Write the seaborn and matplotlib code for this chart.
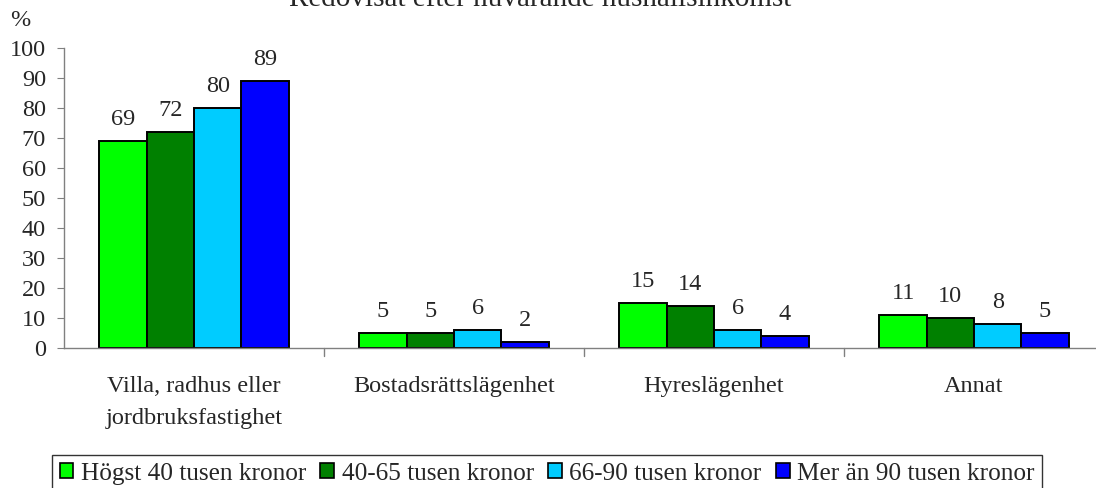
import matplotlib.pyplot as plt
import seaborn as sns
import pandas as pd
from matplotlib.patches import Patch

# Data
categories = ["Villa, radhus eller\njordbruksfastighet", "Bostadsrättslägenhet", "Hyreslägenhet", "Annat"]
groups = ["Högst 40 tusen kronor", "40-65 tusen kronor", "66-90 tusen kronor", "Mer än 90 tusen kronor"]
values = [
    [69, 5, 15, 11],
    [72, 5, 14, 10],
    [80, 6, 6, 8],
    [89, 2, 4, 5],
]
colors = ["#00FF00", "#008000", "#00CCFF", "#0000FF"]
title = "Redovisat efter nuvarande hushållsinkomst"

rows = []
for g, vals in zip(groups, values):
    for c, v in zip(categories, vals):
        rows.append({"kategori": c, "grupp": g, "varde": v})
df = pd.DataFrame(rows)

sns.set_style("white")
plt.rcParams["font.family"] = ["Liberation Serif", "DejaVu Serif"]
fs = 17.5

fig = plt.figure(figsize=(10.96, 4.88), dpi=100)
ax = fig.add_axes([64 / 1096, 140 / 488, 1040 / 1096, 300 / 488])

sns.barplot(data=df, x="kategori", y="varde", hue="grupp", order=categories,
            hue_order=groups, palette=colors, saturation=1, width=0.727, gap=0,
            edgecolor="black", linewidth=1.4, legend=False, ax=ax)

# value labels
for cont in ax.containers:
    ax.bar_label(cont, padding=8, fontsize=fs)

ax.set_xlim(-0.5, 3.5)
ax.set_ylim(0, 100)
ax.set_yticks(range(0, 101, 10))
ax.set_xlabel("")
ax.set_ylabel("")
ax.tick_params(axis="y", labelsize=fs, length=5, color="#808080", direction="out", left=True, pad=8)
ax.tick_params(axis="x", labelsize=fs, length=0, pad=20)
for lbl in ax.get_xticklabels():
    lbl.set_linespacing(1.7)
for s in ["top", "right"]:
    ax.spines[s].set_visible(False)
for s in ["left", "bottom"]:
    ax.spines[s].set_color("#808080")
    ax.spines[s].set_linewidth(1)

# boundary ticks between categories
for xb in [0.5, 1.5, 2.5]:
    ax.plot([xb, xb], [0, -2.7], color="#808080", lw=1, clip_on=False)

fig.text(10 / 1096, 1 - 20 / 488, "%", fontsize=fs, ha="left", va="center")
fig.text(540 / 1096, 1 - 6 / 488, title, fontsize=21, ha="center", va="baseline")

handles = [Patch(facecolor=c, edgecolor="black", linewidth=1.2) for c in colors]
leg = fig.legend(handles, groups, loc="upper left", bbox_to_anchor=(52 / 1096, 1 - 455 / 488),
                 ncol=4, fontsize=18.2, frameon=True, fancybox=False, handlelength=0.55,
                 handleheight=0.55, handletextpad=0.3, columnspacing=0.55,
                 borderpad=0.3, borderaxespad=0)
leg.get_frame().set_edgecolor("black")
leg.get_frame().set_linewidth(1)

fig.savefig("out.png", dpi=100)
